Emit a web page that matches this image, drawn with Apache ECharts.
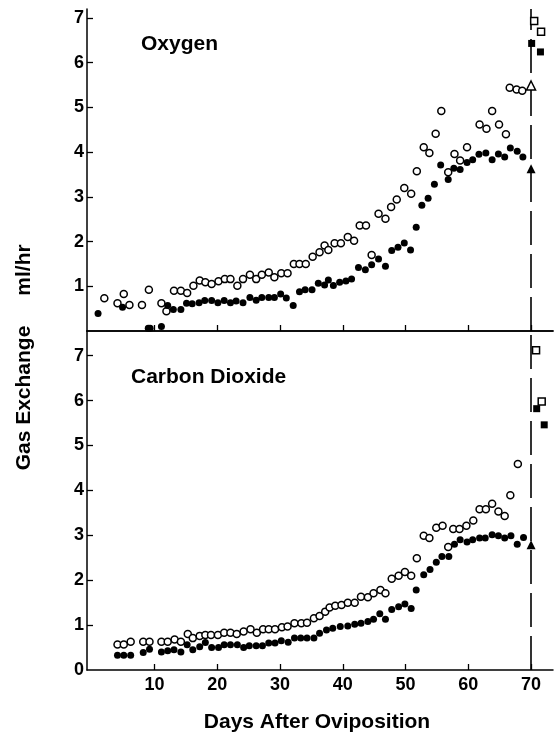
<!DOCTYPE html>
<html>
<head>
<meta charset="utf-8">
<script src="https://cdn.jsdelivr.net/npm/echarts@6/dist/echarts.min.js"></script>
<style>
html,body{margin:0;padding:0;background:#fff;}
#c{width:554px;height:736px;}
</style>
</head>
<body>
<div id="c"></div>
<script>
// ---- data (day after oviposition, ml/hr) ----
const xTicks = [10, 20, 30, 40, 50, 60, 70];
const xLabels = [10, 20, 30, 40, 50, 60, 70];
const hatchDay = 70;

const o2Open = [[2.0,0.73],[4.1,0.62],[5.1,0.83],[6.0,0.58],[8.0,0.58],[9.1,0.92],[11.1,0.62],[11.9,0.44],[13.1,0.90],[14.2,0.90],[15.2,0.85],[16.2,1.01],[17.2,1.13],[18.1,1.09],[19.1,1.05],[20.2,1.11],[21.2,1.16],[22.1,1.16],[23.2,1.01],[24.1,1.16],[25.2,1.26],[26.2,1.16],[27.1,1.26],[28.2,1.31],[29.1,1.20],[30.2,1.29],[31.2,1.29],[32.2,1.50],[33.1,1.50],[34.1,1.50],[35.2,1.66],[36.3,1.76],[37.1,1.91],[37.7,1.81],[38.7,1.96],[39.7,1.96],[40.8,2.10],[41.8,2.02],[42.7,2.36],[43.7,2.36],[44.6,1.70],[45.7,2.62],[46.8,2.51],[47.7,2.77],[48.6,2.94],[49.8,3.20],[50.9,3.07],[51.8,3.57],[52.9,4.11],[53.8,3.98],[54.8,4.41],[55.7,4.92],[56.8,3.55],[57.8,3.96],[58.7,3.81],[59.8,4.11],[61.8,4.62],[62.9,4.52],[63.8,4.92],[64.9,4.62],[66.0,4.40],[66.6,5.44],[67.7,5.40],[68.6,5.37]];
const o2Filled = [[1.0,0.39],[4.9,0.53],[9.0,0.06],[9.3,0.06],[11.1,0.10],[12.1,0.57],[13.0,0.48],[14.2,0.48],[15.1,0.62],[16.0,0.61],[17.1,0.63],[18.0,0.68],[19.1,0.68],[20.1,0.63],[21.1,0.68],[22.1,0.63],[23.0,0.67],[24.1,0.63],[25.2,0.75],[26.2,0.69],[27.1,0.75],[28.2,0.75],[29.1,0.75],[30.1,0.83],[31.0,0.74],[32.1,0.57],[33.1,0.88],[34.0,0.92],[35.1,0.92],[36.1,1.07],[37.1,1.03],[37.7,1.14],[38.5,1.02],[39.5,1.09],[40.5,1.12],[41.4,1.16],[42.5,1.42],[43.6,1.37],[44.6,1.48],[45.7,1.61],[46.8,1.45],[47.8,1.80],[48.8,1.87],[49.8,1.97],[50.8,1.81],[51.7,2.32],[52.6,2.81],[53.6,2.97],[54.6,3.28],[55.6,3.71],[56.8,3.39],[57.7,3.64],[58.7,3.61],[59.8,3.77],[60.7,3.83],[61.7,3.95],[62.8,3.98],[63.8,3.83],[64.8,3.96],[65.8,3.89],[66.7,4.09],[67.8,4.02],[68.7,3.89]];
const o2OpenTri = [[70,5.49]];
const o2FilledTri = [[70,3.63]];
const o2OpenSq = [[70.5,6.93],[71.6,6.69]];
const o2FilledSq = [[70.1,6.43],[71.5,6.24]];

const co2Open = [[4.1,0.57],[5.1,0.57],[6.2,0.63],[8.2,0.63],[9.2,0.63],[11.1,0.63],[12.1,0.63],[13.2,0.68],[14.2,0.63],[15.3,0.80],[16.1,0.71],[17.2,0.76],[18.1,0.78],[19.0,0.78],[20.1,0.78],[21.1,0.83],[22.1,0.83],[23.1,0.80],[24.2,0.86],[25.3,0.91],[26.3,0.83],[27.3,0.91],[28.2,0.91],[29.2,0.91],[30.3,0.95],[31.2,0.97],[32.3,1.04],[33.4,1.04],[34.3,1.05],[35.4,1.15],[36.3,1.20],[37.2,1.30],[37.9,1.39],[38.8,1.43],[39.8,1.45],[40.8,1.50],[41.9,1.50],[42.9,1.63],[44.0,1.62],[44.9,1.71],[46.0,1.78],[46.8,1.71],[47.8,2.03],[48.9,2.10],[49.9,2.18],[50.9,2.10],[51.8,2.49],[52.9,2.99],[53.8,2.94],[54.9,3.17],[55.9,3.21],[56.8,2.74],[57.6,3.14],[58.6,3.14],[59.7,3.21],[60.8,3.33],[61.8,3.58],[62.8,3.58],[63.8,3.70],[64.8,3.53],[65.8,3.43],[66.7,3.89],[67.9,4.59]];
const co2Filled = [[4.1,0.33],[5.1,0.33],[6.2,0.33],[8.2,0.39],[9.2,0.46],[11.1,0.40],[12.1,0.43],[13.1,0.45],[14.2,0.40],[15.2,0.56],[16.1,0.45],[17.2,0.52],[18.1,0.61],[19.1,0.50],[20.2,0.50],[21.1,0.56],[22.1,0.56],[23.2,0.56],[24.2,0.50],[25.1,0.54],[26.2,0.54],[27.2,0.54],[28.2,0.60],[29.2,0.60],[30.2,0.65],[31.3,0.62],[32.3,0.71],[33.3,0.71],[34.3,0.71],[35.4,0.71],[36.3,0.82],[37.4,0.89],[38.4,0.93],[39.6,0.97],[40.8,0.98],[41.9,1.02],[42.9,1.04],[44.0,1.08],[44.9,1.13],[45.9,1.25],[46.8,1.13],[47.8,1.35],[48.9,1.41],[49.9,1.47],[50.9,1.37],[51.7,1.78],[52.9,2.12],[53.9,2.24],[54.9,2.40],[55.8,2.53],[56.9,2.53],[57.8,2.80],[58.7,2.90],[59.8,2.85],[60.7,2.90],[61.8,2.94],[62.7,2.94],[63.8,3.01],[64.8,2.99],[65.8,2.94],[66.8,2.99],[67.8,2.80],[68.8,2.95]];
const co2FilledTri = [[70,2.79]];
const co2OpenSq = [[70.8,7.12],[71.7,5.98]];
const co2FilledSq = [[70.9,5.82],[72.1,5.46]];

const yTicks = [0, 1, 2, 3, 4, 5, 6, 7];

// ---- chart ----
const FONT = '"Liberation Sans", Arial, Helvetica, sans-serif';
const XMIN = -0.76, XMAX = 73.5;
const chart = echarts.init(document.getElementById('c'), null, {renderer: 'canvas'});

function xAxisFor(grid, showLabels) {
  return {
    type: 'value', gridIndex: grid, min: XMIN, max: XMAX,
    axisLine: {show: true, onZero: false, lineStyle: {color: '#000', width: 1.5}},
    axisTick: {show: true, inside: true, length: 6, customValues: xTicks, lineStyle: {color: '#000', width: 1.3}},
    axisLabel: {show: showLabels, customValues: xLabels, hideOverlap: false, color: '#000', fontFamily: FONT, fontWeight: 'bold', fontSize: 18, margin: 6},
    splitLine: {show: false}
  };
}
function yAxisFor(grid, max, showZero) {
  return {
    type: 'value', gridIndex: grid, min: 0, max: max, interval: 1,
    axisLine: {show: true, onZero: false, lineStyle: {color: '#000', width: 1.5}},
    axisTick: {show: true, inside: true, length: 6, customValues: yTicks.filter(v => v > 0), lineStyle: {color: '#000', width: 1.3}},
    axisLabel: {color: '#000', fontFamily: FONT, fontWeight: 'bold', fontSize: 18, margin: 3,
                customValues: yTicks.filter(v => showZero || v > 0)},
    splitLine: {show: false}
  };
}

const openStyle = {color: '#fff', borderColor: '#000', borderWidth: 1.5, opacity: 1};
const fillStyle = {color: '#000', borderColor: '#000', borderWidth: 0, opacity: 1};

function sc(data, x, y, symbol, size, style, z) {
  return {type: 'scatter', xAxisIndex: x, yAxisIndex: y, data: data, symbol: symbol,
          symbolSize: size, itemStyle: style, z: z, silent: true, animation: false};
}

const dashLine = (x, y) => ({
  type: 'scatter', xAxisIndex: x, yAxisIndex: y, data: [], silent: true, animation: false,
  markLine: {silent: true, symbol: 'none', label: {show: false}, animation: false,
    lineStyle: {color: '#000', width: 1.6, type: [34, 9]},
    data: [{xAxis: hatchDay}]}
});

chart.setOption({
  animation: false,
  backgroundColor: '#fff',
  grid: [
    {left: 87, right: 1, top: 9, height: 322},
    {left: 87, right: 1, top: 331, height: 339}
  ],
  xAxis: [
    xAxisFor(0, false),
    xAxisFor(1, true),
    {type: 'value', gridIndex: 0, position: 'top', min: XMIN, max: XMAX,
     axisLine: {show: true, lineStyle: {color: '#000', width: 1.5}}, axisTick: {show: false},
     axisLabel: {show: false}, splitLine: {show: false}}
  ],
  yAxis: [
    yAxisFor(0, 7.2, false),
    yAxisFor(1, 7.55, true)
  ],
  graphic: [
    {type: 'text', left: 141, top: 34, style: {text: 'Oxygen', font: 'bold 21px ' + FONT, fill: '#000'}},
    {type: 'text', left: 131, top: 367, style: {text: 'Carbon Dioxide', font: 'bold 21px ' + FONT, fill: '#000'}},
    {type: 'text', x: 24, y: 398, rotation: Math.PI / 2,
     style: {text: 'Gas Exchange', font: 'bold 21px ' + FONT, fill: '#000', align: 'center', verticalAlign: 'middle'}},
    {type: 'text', x: 24, y: 270, rotation: Math.PI / 2,
     style: {text: 'ml/hr', font: 'bold 21px ' + FONT, fill: '#000', align: 'center', verticalAlign: 'middle'}},
    {type: 'text', x: 317, y: 722,
     style: {text: 'Days After Oviposition', font: 'bold 21px ' + FONT, fill: '#000', align: 'center', verticalAlign: 'middle'}}
  ],
  series: [
    dashLine(0, 0),
    dashLine(1, 1),
    sc(o2Open, 0, 0, 'circle', 7, openStyle, 3),
    sc(o2Filled, 0, 0, 'circle', 7, fillStyle, 4),
    sc(o2OpenTri, 0, 0, 'triangle', 9, openStyle, 5),
    sc(o2FilledTri, 0, 0, 'triangle', 9, fillStyle, 5),
    sc(o2OpenSq, 0, 0, 'rect', 7, openStyle, 5),
    sc(o2FilledSq, 0, 0, 'rect', 7, fillStyle, 5),
    sc(co2Open, 1, 1, 'circle', 7, openStyle, 3),
    sc(co2Filled, 1, 1, 'circle', 7, fillStyle, 4),
    sc(co2FilledTri, 1, 1, 'triangle', 9, fillStyle, 5),
    sc(co2OpenSq, 1, 1, 'rect', 7, openStyle, 5),
    sc(co2FilledSq, 1, 1, 'rect', 7, fillStyle, 5)
  ]
});
</script>
</body>
</html>
